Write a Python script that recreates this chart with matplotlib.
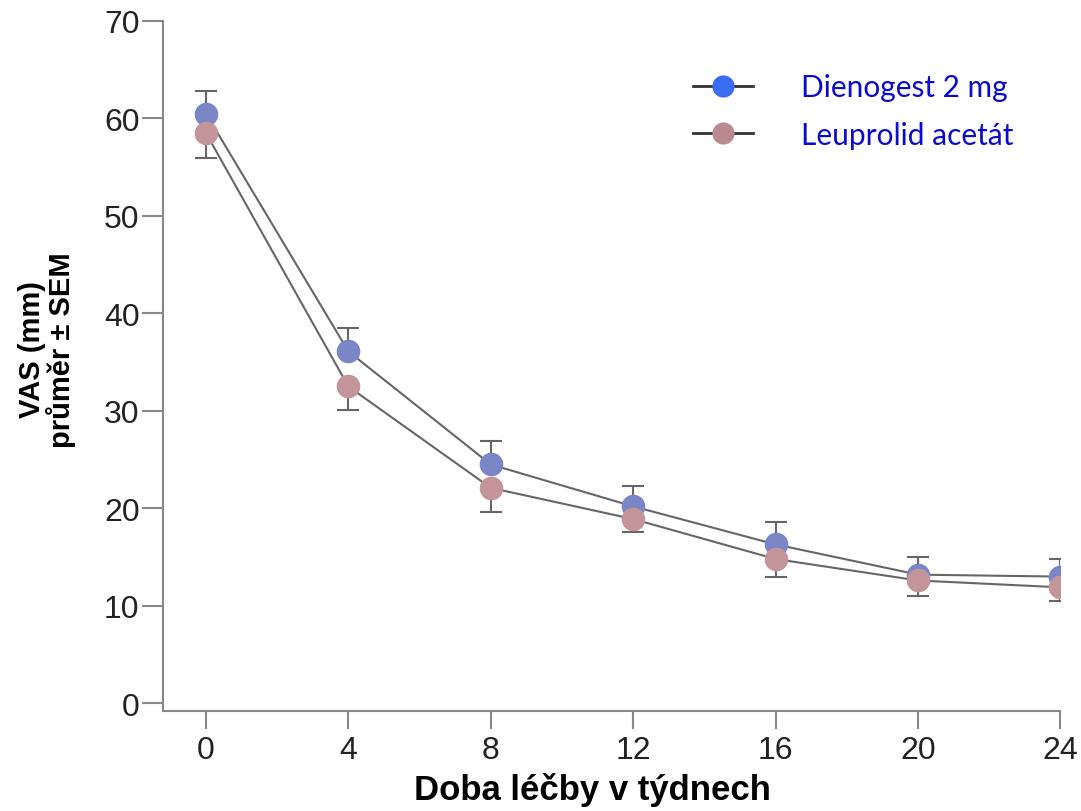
import numpy as np
import matplotlib.pyplot as plt
from matplotlib.lines import Line2D

weeks = [0, 4, 8, 12, 16, 20, 24]
dienogest = [60.5, 36.1, 24.5, 20.2, 16.3, 13.2, 13.0]
dienogest_err = [2.3, 2.4, 2.4, 2.1, 2.3, 1.8, 1.8]
leuprolid = [58.5, 32.5, 22.1, 18.9, 14.8, 12.6, 11.9]
leuprolid_err = [2.6, 2.4, 2.5, 1.3, 1.8, 1.6, 1.4]

plt.rcParams['font.family'] = ['Liberation Sans', 'DejaVu Sans']

fig = plt.figure(figsize=(10.81, 8.12), dpi=100)
ax = fig.add_axes([0.151, 0.123, 0.830, 0.850])

n = len(weeks)
# modra skupina - chybova usecka jen nahoru, ruzova jen dolu
ax.errorbar(weeks, dienogest, yerr=[[0] * n, dienogest_err], fmt='none',
            ecolor='#666666', elinewidth=1.5, capsize=8, capthick=1.5, zorder=2)
ax.errorbar(weeks, leuprolid, yerr=[leuprolid_err, [0] * n], fmt='none',
            ecolor='#666666', elinewidth=1.5, capsize=8, capthick=1.5, zorder=2)
ax.plot(weeks, dienogest, '-', color='#666666', lw=1.5, zorder=3)
ax.plot(weeks, leuprolid, '-', color='#666666', lw=1.5, zorder=3)
ax.plot(weeks, dienogest, 'o', color='#7b86c6', ms=17, mec='none', zorder=4)
ax.plot(weeks, leuprolid, 'o', color='#c3959a', ms=17, mec='none', zorder=5)

ax.set_xlim(-1.2, 24)
ax.set_ylim(-0.8, 70)
ax.set_xticks(weeks)
ax.set_yticks(range(0, 71, 10))
for s in ['top', 'right']:
    ax.spines[s].set_visible(False)
for s in ['left', 'bottom']:
    ax.spines[s].set_color('#888888')
    ax.spines[s].set_linewidth(1.5)
ax.tick_params(axis='y', length=15, width=1.5, color='#888888', labelsize=23,
               labelcolor='#222222', pad=2)
ax.tick_params(axis='x', length=13, width=1.5, color='#888888', labelsize=23,
               labelcolor='#222222', pad=4)

ax.set_xlabel('Doba léčby v týdnech', fontsize=25, fontweight='bold')
ax.xaxis.set_label_coords(0.478, -0.088)
ax.set_ylabel('VAS (mm)\nprůměr ± SEM', fontsize=21, fontweight='bold',
              linespacing=1.0)
ax.yaxis.set_label_coords(-0.097, 0.525)

handles = [
    Line2D([], [], color='#333333', lw=2, marker='o', ms=16, mfc='#3a6cf6', mec='none'),
    Line2D([], [], color='#333333', lw=2, marker='o', ms=16, mfc='#b98a8f', mec='none'),
]
leg = ax.legend(handles, ['Dienogest 2 mg', 'Leuprolid acetát'], loc='upper left',
                bbox_to_anchor=(0.561, 0.963), frameon=False, handlelength=2.0,
                handletextpad=1.6, labelspacing=0.65,
                prop={'family': ['Lato', 'DejaVu Sans'], 'size': 21.5})
for t in leg.get_texts():
    t.set_color('#0a0ad2')

fig.savefig('out.png', dpi=100)
